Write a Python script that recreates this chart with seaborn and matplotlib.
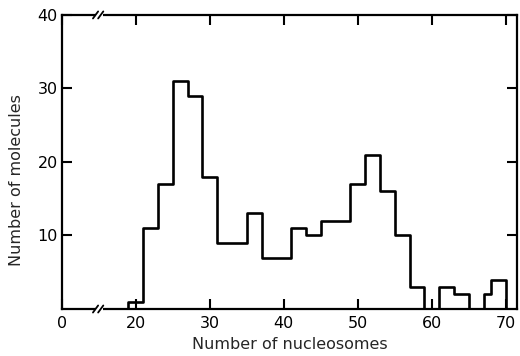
import matplotlib
matplotlib.use("Agg")
import matplotlib.pyplot as plt
import matplotlib.transforms as mtransforms
import numpy as np
import pandas as pd
import seaborn as sns

# Histogram of molecules by nucleosome count
bin_edges = [19, 21, 23, 25, 27, 29, 31, 33, 35, 37, 39, 41, 43, 45, 47,
             49, 51, 53, 55, 57, 59, 61, 63, 65, 67, 68, 70]
molecules = [1, 11, 17, 31, 29, 18, 9, 9, 13, 7, 7, 11, 10, 12, 12,
             17, 21, 16, 10, 3, 0, 3, 2, 0, 2, 4]

x_ticks = [10, 20, 30, 40, 50, 60, 70]
x_tick_labels = ["0", "20", "30", "40", "50", "60", "70"]
y_ticks = [10, 20, 30, 40]
y_tick_labels = ["10", "20", "30", "40"]

sns.set_theme(style="ticks")
plt.rcParams["font.family"] = ["DejaVu Sans"]

edges = np.array(bin_edges, dtype=float)
df = pd.DataFrame({
    "nucleosomes": (edges[:-1] + edges[1:]) / 2,
    "molecules": molecules,
})

fig = plt.figure(figsize=(5.2, 3.56), dpi=100)
ax = fig.add_axes([0.119, 0.132, 0.875, 0.826])

sns.histplot(data=df, x="nucleosomes", weights="molecules", bins=bin_edges,
             element="step", fill=True, color="black", facecolor="none",
             edgecolor="black", linewidth=1.9, ax=ax, zorder=3)

ax.set_xlim(10, 71.5)
ax.set_ylim(0, 40)
ax.set_xticks(x_ticks)
ax.set_xticklabels(x_tick_labels)
ax.set_yticks(y_ticks)
ax.set_yticklabels(y_tick_labels)

for side in ["left", "right", "top", "bottom"]:
    ax.spines[side].set_visible(True)
    ax.spines[side].set_linewidth(1.6)
    ax.spines[side].set_color("black")

ax.tick_params(axis="both", direction="in", length=7, width=1.5,
               colors="black", labelsize=11.5, top=True, right=True)
ax.tick_params(axis="x", pad=5)
ax.tick_params(axis="y", pad=3)

ax.set_xlabel("Number of nucleosomes", fontsize=11.5, labelpad=4)
ax.set_ylabel("Number of molecules", fontsize=11.5)
ax.yaxis.set_label_coords(-0.083, 0.44)

# Axis break marks on the top and bottom spines
trans = mtransforms.blended_transform_factory(ax.transData, ax.transAxes)
for yb in (0.0, 1.0):
    ax.plot([14.6, 15.6], [yb, yb], transform=trans, color="white",
            lw=3, clip_on=False, zorder=5, solid_capstyle="butt")
    for xb in (14.55, 15.25):
        ax.plot([xb - 0.35, xb + 0.35], [yb - 0.012, yb + 0.012],
                transform=trans, color="black", lw=1.3, clip_on=False,
                zorder=6)

ax.grid(False)
fig.savefig("out.png", dpi=100)
